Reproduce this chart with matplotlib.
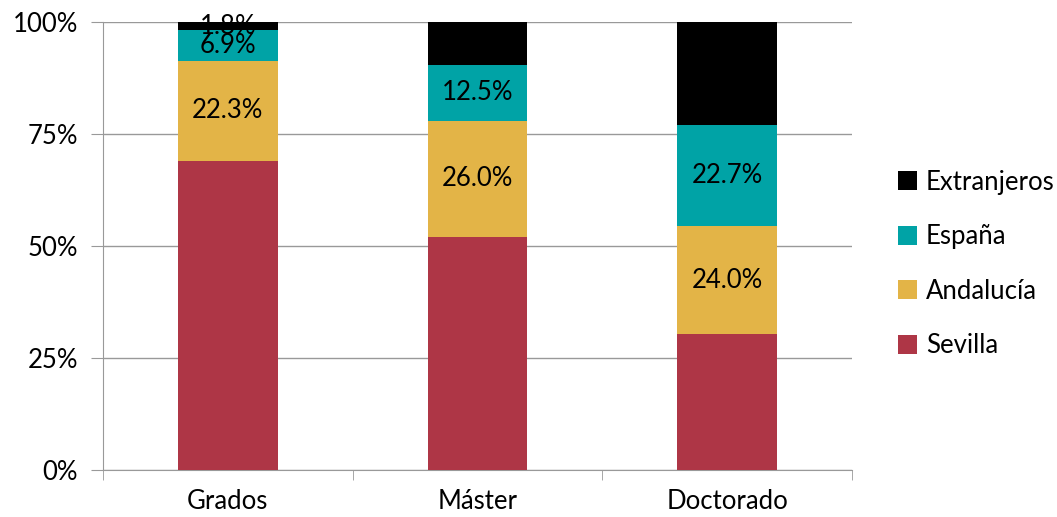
import numpy as np
import matplotlib.pyplot as plt

plt.rcParams['font.family'] = ['Lato', 'DejaVu Sans']

categories = ['Grados', 'Máster', 'Doctorado']
series_names = ['Sevilla', 'Andalucía', 'España', 'Extranjeros']
sevilla = [69.0, 52.0, 30.4]
andalucia = [22.3, 26.0, 24.0]
espana = [6.9, 12.5, 22.7]
extranjeros = [1.8, 9.5, 22.9]
colors = ['#AE3646', '#E3B447', '#00A3A6', '#000000']

fs = 18.5

fig = plt.figure(figsize=(10.57, 5.17), dpi=100)
ax = fig.add_axes([103 / 1057, 47 / 517, 749 / 1057, 448 / 517])

x = np.arange(len(categories))
bottom = np.zeros(len(categories))
series = [sevilla, andalucia, espana, extranjeros]
handles = []
for i, (name, vals) in enumerate(zip(series_names, series)):
    vals = np.array(vals)
    b = ax.bar(x, vals, 0.4, bottom=bottom, color=colors[i], label=name, zorder=3)
    handles.append(b)
    if i > 0:
        for xi, v, bt in zip(x, vals, bottom):
            ax.text(xi, bt + v / 2, f'{v:.1f}%', ha='center', va='center',
                    fontsize=fs, color='black', zorder=4)
    bottom += vals

ax.set_xlim(-0.5, 2.5)
ax.set_ylim(0, 100)
ax.set_yticks([0, 25, 50, 75, 100])
ax.set_yticklabels(['0%', '25%', '50%', '75%', '100%'])
ax.set_xticks(x)
ax.set_xticklabels(categories)
ax.set_xticks([-0.5, 0.5, 1.5, 2.5], minor=True)
ax.tick_params(axis='x', which='major', length=0, labelsize=fs, pad=14)
ax.tick_params(axis='x', which='minor', length=7, color='#999999', direction='out')
ax.tick_params(axis='y', length=9, color='#999999', labelsize=fs, pad=9)
ax.yaxis.grid(True, color='#999999', linewidth=1, zorder=0)
for s in ['top', 'right']:
    ax.spines[s].set_visible(False)
ax.spines['left'].set_color('#999999')
ax.spines['bottom'].set_color('#999999')

leg = ax.legend(handles[::-1], series_names[::-1], loc='center left',
                bbox_to_anchor=(1.03, 0.46), frameon=False, fontsize=fs,
                handlelength=0.75, handleheight=0.75, labelspacing=1.15,
                handletextpad=0.35)

fig.savefig('out.png', dpi=100)
